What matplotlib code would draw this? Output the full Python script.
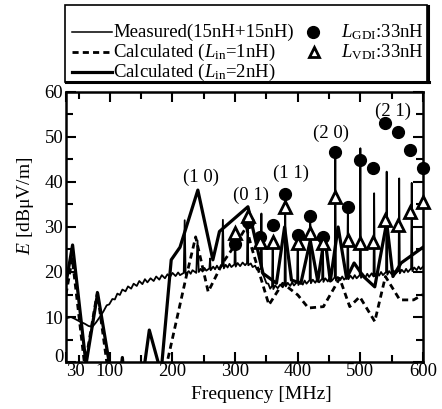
import matplotlib
matplotlib.use('Agg')
import matplotlib.pyplot as plt
from matplotlib.lines import Line2D
from matplotlib.patches import Rectangle

plt.rcParams['font.family'] = ['Liberation Serif', 'DejaVu Serif']
plt.rcParams['mathtext.fontset'] = 'custom'
plt.rcParams['mathtext.rm'] = 'Liberation Serif'
plt.rcParams['mathtext.it'] = 'Liberation Serif:italic'

# ---------------- data ----------------
# measured spectrum: (frequency MHz, E dBuV/m)
measured_points = [
    (30, 9.7), (38, 10.0), (44, 9.6), (52, 9.0), (60, 8.5), (66, 8.0), (72, 7.8), (78, 8.8),
    (84, 10.0), (90, 11.3), (95, 12.6), (99, 12.8), (104, 14.0), (108, 13.9), (112, 15.2),
    (116, 14.9), (120, 16.1), (125, 15.7), (129, 16.8), (134, 16.3), (138, 17.4), (143, 16.9),
    (147, 18.0), (152, 17.3), (156, 18.4), (160, 17.7), (165, 18.6), (170, 18.0), (174, 19.0),
    (179, 18.3), (183, 19.3), (188, 18.6), (192, 19.5), (196, 18.9), (200, 19.8), (205, 19.1),
    (209, 19.9), (212, 19.3), (218, 19.8), (219.5, 31.5), (221, 19.5), (226, 20.2), (229, 19.6),
    (232, 20.4), (238, 19.8), (240, 27.0), (242, 20.0), (245, 20.7), (248, 20.1), (251, 20.9),
    (254, 20.3), (259, 20.8), (260, 23.0), (261, 20.4), (265, 21.2), (268, 20.6), (271, 21.4),
    (274, 20.7), (279, 21.3), (280.5, 31.6), (282, 20.8), (285, 21.6), (288, 21.0), (291, 21.8),
    (294, 21.1), (299, 21.7), (300, 29.0), (301, 21.2), (304, 22.0), (308, 21.3), (312, 22.1),
    (316, 21.5), (319, 22.0), (320, 33.0), (321, 21.5), (325, 21.9), (328, 21.1), (332, 21.4),
    (335, 20.5), (341, 20.7), (342, 33.0), (343, 19.8), (346, 19.0), (350, 17.5), (353, 17.4),
    (356, 16.3), (359, 16.9), (360, 27.0), (361, 16.2), (364, 17.0), (368, 16.4), (372, 17.2),
    (376, 16.6), (379, 17.3), (380, 37.0), (381, 16.8), (384, 17.6), (388, 16.9), (391, 17.7),
    (394, 17.0), (399, 17.8), (400, 28.0), (401, 17.1), (404, 17.9), (408, 17.2), (411, 18.1),
    (414, 17.4), (419, 18.2), (420, 33.0), (421, 17.5), (424, 18.3), (428, 17.6), (431, 18.4),
    (434, 17.7), (439, 18.5), (440, 28.0), (441, 17.8), (444, 18.6), (448, 17.9), (451, 18.8),
    (454, 18.0), (459, 18.8), (460, 47.0), (461, 18.1), (464, 18.9), (468, 18.2), (471, 19.0),
    (474, 18.3), (479, 19.0), (480, 34.5), (481, 18.4), (484, 19.2), (488, 18.5), (491, 19.3),
    (494, 18.6), (499, 19.3), (500, 47.5), (501, 18.7), (504, 19.5), (508, 18.8), (511, 19.6),
    (514, 18.9), (518, 19.7), (521, 19.0), (522, 37.5), (523, 19.1), (527, 19.9), (530, 19.2),
    (533, 20.0), (536, 19.3), (541, 20.0), (542, 42.3), (543, 19.4), (546, 20.2), (550, 19.5),
    (553, 20.3), (556, 19.6), (561, 20.3), (562, 40.8), (563, 19.7), (566, 20.5), (570, 19.9),
    (573, 20.7), (576, 20.0), (581, 20.8), (582, 39.8), (583, 20.2), (586, 21.0), (590, 20.4),
    (593, 21.2), (596, 20.6), (600, 21.2),
]
meas_f = [p[0] for p in measured_points]
meas_E = [p[1] for p in measured_points]

calc1_f = [30, 40, 60, 80, 97, 120, 190, 222, 237, 257, 280, 300, 318, 326, 354, 376, 400,
           417, 441, 467, 483, 499, 523, 540, 563, 585, 600]
calc1_E = [15.0, 23.0, -1.0, 15.5, -2.0, -6.0, -1.0, 19.0, 27.8, 15.6, 22.0, 26.0, 30.0, 25.6,
           12.7, 17.5, 14.9, 12.0, 12.3, 18.6, 12.3, 14.5, 9.0, 19.0, 13.8, 13.8, 15.0]

calc2_f = [30, 40.5, 62, 80.5, 100, 112, 120, 126, 150, 155, 163, 179, 182, 198, 212, 240.5,
           264.5, 275, 320.5, 344.5, 366, 379, 390, 405, 420, 432, 443, 452, 464.5, 478, 490,
           505, 523, 542, 552, 565, 600]
calc2_E = [17.5, 26.0, -0.5, 15.3, -1.0, -8.0, 1.0, -8.0, -8.0, -1.0, 7.1, -1.0, -2.0, 22.7,
           25.5, 38.2, 22.7, 29.0, 34.5, 19.7, 17.5, 30.0, 18.2, 17.5, 27.0, 18.0, 28.0, 18.0,
           30.0, 18.6, 22.0, 19.0, 16.7, 31.0, 19.0, 22.0, 25.5]

mode_f = [300, 320, 340, 360, 380, 400, 420, 440, 460, 480, 500, 520, 540, 560, 580, 600]
gdi_E = [26.2, 31.0, 27.8, 30.4, 37.3, 28.2, 32.5, 27.8, 46.7, 34.5, 44.9, 43.0, 53.0, 51.2,
         47.1, 43.0]
vdi_E = [28.6, 32.5, 26.7, 26.7, 34.5, 26.4, 28.6, 26.4, 36.7, 27.1, 26.4, 26.7, 31.6, 30.4,
         33.4, 35.6]

mode_labels = ['(1 0)', '(0 1)', '(1 1)', '(2 0)', '(2 1)']
mode_label_f = [245, 326, 389, 453, 552]
mode_label_E = [41.1, 37.1, 42.0, 50.9, 55.6]

x_ticks = [30, 100, 200, 300, 400, 500, 600]
x_minor = [50, 150, 250, 350, 450, 550]
y_ticks = [0, 10, 20, 30, 40, 50, 60]
y_minor = [5, 15, 25, 35, 45, 55]

legend_labels = ['Measured(15nH+15nH)', r'Calculated ($L_{\rm in}$=1nH)',
                 r'Calculated ($L_{\rm in}$=2nH)', r'$L_{\rm GDI}$:33nH', r'$L_{\rm VDI}$:33nH']

# ---------------- figure ----------------
W, H = 442, 409
fig = plt.figure(figsize=(W / 100, H / 100), dpi=100)
ax = fig.add_axes([66 / W, 1 - 362 / H, 357 / W, 270 / H])


def fx(px):
    return px / W


def fy(py):
    return 1 - py / H


ax.plot(meas_f, meas_E, color='black', lw=1.3, zorder=3)
ax.plot(calc1_f, calc1_E, color='black', lw=2.0, dashes=(2.2, 1.5), zorder=2)
ax.plot(calc2_f, calc2_E, color='black', lw=2.3, zorder=2)
ax.plot(mode_f, gdi_E, 'o', color='black', ms=8.5, zorder=5, clip_on=False)
ax.plot(mode_f, vdi_E, '^', mfc='white', mec='black', mew=2.0, ms=8, zorder=6, clip_on=False)

for lab, f, e in zip(mode_labels, mode_label_f, mode_label_E):
    ax.text(f, e, lab, ha='center', va='center', fontsize=13.5)

ax.set_xlim(30, 600)
ax.set_ylim(0, 60)
ax.set_xticks(x_ticks)
ax.set_xticks(x_minor, minor=True)
ax.set_yticks(y_ticks)
ax.set_yticks(y_minor, minor=True)
ax.tick_params(which='both', direction='in', top=True, right=True, labelsize=13.5,
               width=1.5)
ax.tick_params(axis='x', pad=1)
ax.tick_params(axis='y', pad=2)
ax.tick_params(which='major', length=7)
ax.tick_params(which='minor', length=5)
ax.xaxis.get_major_ticks()[0].label1.set_horizontalalignment('left')
ax.yaxis.get_major_ticks()[0].label1.set_verticalalignment('baseline')
for s in ax.spines.values():
    s.set_linewidth(1.8)

ax.set_xlabel('Frequency [MHz]', fontsize=14)
ax.set_ylabel(r'$E$ [dBμV/m]', fontsize=14)
ax.xaxis.set_label_coords(0.546, -0.09)
ax.yaxis.set_label_coords(-0.085, 0.58)

# ---------------- legend box ----------------
fig.add_artist(Rectangle((fx(65), fy(82)), fx(427) - fx(65), fy(5) - fy(82),
                         transform=fig.transFigure, fill=False, lw=1.2, ec='black'))
fig.add_artist(Line2D([fx(428), fx(428)], [fy(6), fy(82)], transform=fig.transFigure,
                      color='black', lw=2.2))
fig.add_artist(Line2D([fx(66), fx(429)], [fy(82), fy(82)], transform=fig.transFigure,
                      color='black', lw=2.2))

rows_y = [32, 52, 72]
fig.add_artist(Line2D([fx(72), fx(112)], [fy(rows_y[0])] * 2, transform=fig.transFigure,
                      color='black', lw=1.1))
fig.add_artist(Line2D([fx(72), fx(112)], [fy(rows_y[1])] * 2, transform=fig.transFigure,
                      color='black', lw=2.0, dashes=(2.2, 1.5)))
fig.add_artist(Line2D([fx(72), fx(112)], [fy(rows_y[2])] * 2, transform=fig.transFigure,
                      color='black', lw=2.3))
for lab, y in zip(legend_labels[:3], rows_y):
    fig.text(fx(113), fy(y), lab, ha='left', va='center', fontsize=13.5)

fig.add_artist(Line2D([fx(313)], [fy(rows_y[0])], transform=fig.transFigure, marker='o',
                      color='black', ms=8.5, ls='none'))
fig.add_artist(Line2D([fx(314)], [fy(rows_y[1])], transform=fig.transFigure, marker='^',
                      mfc='white', mec='black', mew=2.0, ms=7, ls='none'))
fig.text(fx(341), fy(rows_y[0]), legend_labels[3], ha='left', va='center', fontsize=13.5)
fig.text(fx(341), fy(rows_y[1]), legend_labels[4], ha='left', va='center', fontsize=13.5)

fig.savefig('out.png', dpi=100)
